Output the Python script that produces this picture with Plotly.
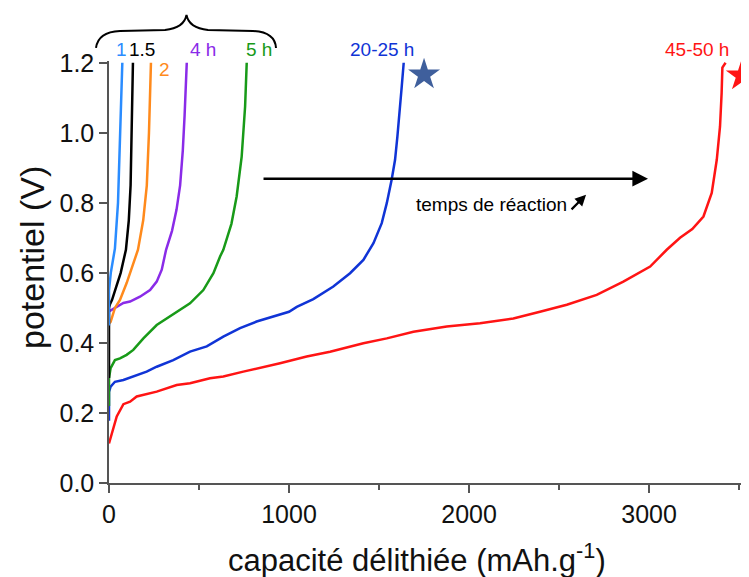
import plotly.graph_objects as go

# ---------------- data ----------------
x_1h = [0, 0, 10, 33, 50, 60, 68, 74]
y_1h = [0.45, 0.55, 0.60, 0.67, 0.80, 0.95, 1.10, 1.20]

x_15h = [0, 0, 5, 17, 40, 65, 94, 110, 120, 127, 133]
y_15h = [0.30, 0.50, 0.51, 0.523, 0.56, 0.60, 0.666, 0.75, 0.85, 1.00, 1.20]

x_2h = [0, 9, 33, 61, 98, 135, 161, 190, 210, 222, 233]
y_2h = [0.455, 0.46, 0.50, 0.523, 0.571, 0.629, 0.666, 0.75, 0.85, 1.00, 1.20]

x_4h = [0, 43, 80, 117, 172, 228, 265, 293, 317, 350, 375, 395, 410, 420, 432]
y_4h = [0.49, 0.504, 0.514, 0.518, 0.532, 0.551, 0.575, 0.609, 0.666, 0.72, 0.78, 0.85, 0.95, 1.05, 1.20]

x_5h = [0, 0, 9, 33, 61, 98, 135, 191, 265, 339, 450, 524, 580, 617, 635, 680, 709, 737, 756, 765]
y_5h = [0.22, 0.30, 0.328, 0.351, 0.356, 0.366, 0.38, 0.413, 0.451, 0.475, 0.513, 0.551, 0.599, 0.647, 0.666, 0.74, 0.818, 0.932, 1.075, 1.20]

x_25h = [0, 0, 9, 33, 80, 135, 209, 265, 357, 450, 543, 635, 728, 820, 913, 1000,
         1043, 1135, 1246, 1339, 1413, 1469, 1515, 1543, 1570, 1589, 1602, 1617, 1626, 1637]
y_25h = [0.178, 0.26, 0.275, 0.289, 0.294, 0.304, 0.318, 0.332, 0.351, 0.375, 0.39, 0.418, 0.442, 0.461, 0.475, 0.489,
         0.503, 0.525, 0.561, 0.599, 0.637, 0.685, 0.742, 0.799, 0.866, 0.923, 0.99, 1.066, 1.132, 1.20]

x_50h = [0, 43, 80, 117, 154, 265, 376, 450, 561, 635, 746, 876, 950, 1098, 1228, 1413, 1543, 1691,
         1876, 2061, 2246, 2394, 2543, 2709, 2857, 3006, 3098, 3172, 3240, 3302, 3348, 3376, 3394, 3403, 3407, 3425]
y_50h = [0.113, 0.19, 0.225, 0.232, 0.247, 0.261, 0.28, 0.285, 0.299, 0.304, 0.318, 0.332, 0.342, 0.361, 0.375, 0.399, 0.413, 0.432,
         0.447, 0.456, 0.47, 0.489, 0.509, 0.537, 0.575, 0.618, 0.666, 0.70, 0.725, 0.761, 0.828, 0.923, 1.018, 1.114, 1.186, 1.20]

series_names = ["45-50 h", "20-25 h", "5 h", "4 h", "2", "1.5", "1"]
series_x = [x_50h, x_25h, x_5h, x_4h, x_2h, x_15h, x_1h]
series_y = [y_50h, y_25h, y_5h, y_4h, y_2h, y_15h, y_1h]
series_colors = ["#ff1414", "#1034d6", "#189a18", "#8a2be8", "#ff8a1c", "#000000", "#2a8cff"]

label_text = ["1", "1.5", "2", "4 h", "5 h", "20-25 h", "45-50 h"]
label_x = [67, 181, 311, 522, 833, 1517, 3267]
label_y = [1.237, 1.237, 1.180, 1.237, 1.237, 1.237, 1.237]
label_colors = ["#2a8cff", "#000000", "#ff8a1c", "#8a2be8", "#189a18", "#1034d6", "#ff1414"]

star_x = [1750, 3515]
star_y = [1.166, 1.163]
star_colors = ["#3f5f9c", "#ff1414"]

arrow_start_x, arrow_end_x, arrow_y = 850, 2994, 0.869

xtick_vals = [0, 1000, 2000, 3000]
ytick_vals = [0.0, 0.2, 0.4, 0.6, 0.8, 1.0, 1.2]
ytick_text = ["0.0", "0.2", "0.4", "0.6", "0.8", "1.0", "1.2"]

FONT = "Liberation Sans, Arial, sans-serif"
X_MAX, Y_MAX = 3555, 1.205

# ---------------- figure ----------------
fig = go.Figure()
for name, xs, ys, col in zip(series_names, series_x, series_y, series_colors):
    fig.add_trace(go.Scatter(x=xs, y=ys, mode="lines", name=name,
                             line=dict(color=col, width=2.5), showlegend=False))

fig.add_trace(go.Scatter(x=star_x, y=star_y, mode="markers", showlegend=False,
                         marker=dict(symbol="star", size=24, color=star_colors, line=dict(width=0)),
                         cliponaxis=False))

# page has an 8px body margin: compensate so the plot lands where the reference has it
OFF = 8
W, H = 749, 577
L, R, T, B = 109 - OFF, OFF, 61 - OFF, 94 + OFF

fig.update_layout(
    width=W, height=H,
    margin=dict(l=L, r=R, t=T, b=B, autoexpand=False),
    plot_bgcolor="white", paper_bgcolor="white",
    font=dict(family=FONT, size=24, color="#111111"),
    xaxis=dict(range=[0, X_MAX], showgrid=False, zeroline=False, showline=True, automargin=False,
               linecolor="#555555", linewidth=1.5, ticks="outside", ticklen=8,
               tickwidth=1.5, tickcolor="#555555", tickvals=xtick_vals,
               tickfont=dict(size=25, color="#111111"),
               minor=dict(dtick=500, tick0=0, ticks="outside", ticklen=5,
                          tickwidth=1.5, tickcolor="#555555")),
    yaxis=dict(range=[0, Y_MAX], showgrid=False, zeroline=False, showline=True, automargin=False,
               linecolor="#555555", linewidth=1.5, ticks="outside", ticklen=8,
               tickwidth=1.5, tickcolor="#555555", tickvals=ytick_vals, ticktext=ytick_text,
               tickfont=dict(size=25, color="#111111")),
)

PW, PH = W - L - R, H - T - B

def px(xp, yp):
    # reference pixel -> paper coordinates
    return (xp - OFF - L) / PW, (H - B - (yp - OFF)) / PH

annotations = []
# curve labels above the plot area (paper coords derived from data values)
for t, xv, yv, c in zip(label_text, label_x, label_y, label_colors):
    annotations.append(dict(x=xv / X_MAX, y=yv / Y_MAX, xref="paper", yref="paper", text=t,
                            xanchor="center", yanchor="middle",
                            showarrow=False, font=dict(size=19, color=c, family=FONT)))

# main arrow "temps de réaction"
annotations.append(dict(x=arrow_end_x, y=arrow_y, ax=arrow_start_x, ay=arrow_y,
                        xref="x", yref="y", axref="x", ayref="y", text="",
                        showarrow=True, arrowhead=2, arrowsize=1.25, arrowwidth=2.5,
                        arrowcolor="#000000"))
annotations.append(dict(x=2122, y=0.795, xref="x", yref="y", text="temps de réaction",
                        xanchor="center", yanchor="middle",
                        showarrow=False, font=dict(size=19, color="#000000", family=FONT)))
annotations.append(dict(x=2650, y=0.823, ax=2561, ay=0.777, xref="x", yref="y",
                        axref="x", ayref="y", text="", showarrow=True, arrowhead=2,
                        arrowsize=1.0, arrowwidth=2.2, arrowcolor="#000000"))

# axis titles
tx, ty = px(417, 558)
annotations.append(dict(x=tx, y=ty, xref="paper", yref="paper", xanchor="center", yanchor="middle",
                        text="capacité délithiée (mAh.g<sup>-1</sup>)", showarrow=False,
                        font=dict(size=31, color="#111111", family=FONT)))
tx, ty = px(32, 258)
annotations.append(dict(x=tx, y=ty, xref="paper", yref="paper", xanchor="center", yanchor="middle",
                        text="potentiel (V)", textangle=-90,
                        showarrow=False, font=dict(size=34, color="#111111", family=FONT)))
fig.update_layout(annotations=annotations)

def P(xp, yp):
    a, b = px(xp, yp)
    return f"{a:.5f},{b:.5f}"

# curly brace above the short-time curves
brace = ("M " + P(96, 48) + " Q " + P(98, 32) + " " + P(120, 31) +
         " L " + P(165, 30) + " Q " + P(184, 28) + " " + P(186.5, 15) +
         " Q " + P(189, 28) + " " + P(208, 30) +
         " L " + P(253, 31) + " Q " + P(275, 32) + " " + P(276, 48))
fig.add_shape(type="path", path=brace, xref="paper", yref="paper",
              line=dict(color="#000000", width=2))

fig.write_html("out.html")
